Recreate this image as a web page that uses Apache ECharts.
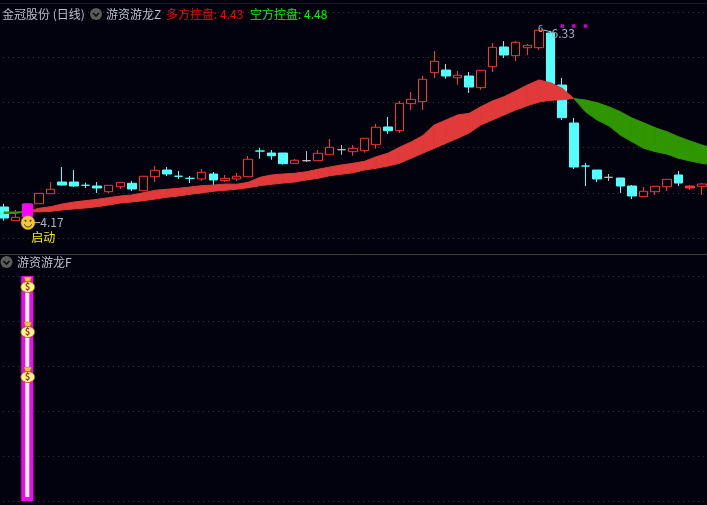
<!DOCTYPE html>
<html lang="zh">
<head>
    <meta charset="UTF-8">
    <title>金冠股份 (日线)</title>
    <style>
        html, body { margin: 0; padding: 0; background: #02020e; }
        #chart { width: 707px; height: 505px; }
    </style>
    <script src="https://cdn.jsdelivr.net/npm/echarts@6/dist/echarts.min.js"></script>
</head>
<body>
<div id="chart"></div>
<script>
    // candles
    const opens = [4.343,4.191,4.232,4.379,4.490,4.619,4.619,4.583,4.575,4.512,4.567,4.605,4.523,4.678,4.752,4.683,4.660,4.653,4.708,4.634,4.653,4.678,4.962,4.940,4.940,4.826,4.855,4.855,4.921,4.977,4.955,4.966,5.032,5.228,5.187,5.486,5.508,5.829,5.858,5.773,5.792,5.663,5.895,6.113,6.017,6.105,6.105,6.268,5.692,5.272,4.796,4.752,4.671,4.664,4.575,4.457,4.512,4.567,4.697,4.553,4.572];
    const closes = [4.221,4.229,4.376,4.494,4.539,4.586,4.575,4.583,4.553,4.583,4.616,4.542,4.683,4.749,4.708,4.683,4.660,4.727,4.642,4.660,4.683,4.871,4.962,4.910,4.822,4.860,4.855,4.937,5.003,4.977,4.992,5.103,5.225,5.187,5.490,5.534,5.756,5.955,5.792,5.800,5.670,5.855,6.110,6.024,6.165,6.132,6.298,5.637,5.331,4.785,4.796,4.653,4.671,4.575,4.465,4.517,4.572,4.649,4.608,4.575,4.597];
    const lows = [4.191,4.191,4.170,4.379,4.490,4.579,4.564,4.553,4.498,4.498,4.542,4.520,4.523,4.619,4.686,4.653,4.608,4.631,4.586,4.619,4.631,4.678,4.877,4.866,4.811,4.826,4.841,4.855,4.921,4.921,4.910,4.944,4.988,5.150,5.162,5.416,5.416,5.770,5.762,5.696,5.604,5.640,5.836,5.991,5.958,6.024,6.080,5.615,5.305,4.763,4.575,4.619,4.631,4.498,4.431,4.457,4.476,4.520,4.575,4.531,4.476];
    const highs = [4.376,4.310,4.387,4.494,4.619,4.785,4.752,4.612,4.619,4.583,4.616,4.631,4.683,4.796,4.785,4.741,4.686,4.763,4.730,4.697,4.719,4.907,4.996,4.973,4.940,4.874,4.962,4.973,5.095,5.029,5.029,5.103,5.261,5.339,5.516,5.615,5.792,6.069,5.925,5.847,5.836,5.855,6.157,6.179,6.179,6.146,6.298,6.290,5.770,5.327,4.830,4.752,4.708,4.664,4.586,4.564,4.572,4.649,4.741,4.586,4.608];

    // the two lines of the ribbon (one more point than candles, it runs off the right edge)
    const bandFast = [4.271,4.271,4.293,4.329,4.346,4.376,4.398,4.413,4.428,4.446,4.465,4.476,4.501,4.528,4.539,4.550,4.564,4.579,4.586,4.597,4.595,4.616,4.671,4.697,4.708,4.716,4.733,4.760,4.785,4.808,4.826,4.848,4.899,4.937,5.003,5.062,5.132,5.250,5.305,5.361,5.379,5.452,5.516,5.563,5.626,5.692,5.748,5.718,5.656,5.543,5.397,5.305,5.242,5.139,5.065,4.992,4.955,4.929,4.882,4.852,4.826,4.808];
    const bandSlow = [4.288,4.288,4.293,4.288,4.295,4.310,4.321,4.332,4.346,4.365,4.387,4.398,4.413,4.431,4.450,4.465,4.483,4.498,4.517,4.528,4.540,4.556,4.579,4.594,4.608,4.619,4.642,4.660,4.689,4.705,4.722,4.752,4.771,4.796,4.826,4.882,4.937,4.992,5.048,5.103,5.162,5.250,5.305,5.361,5.416,5.463,5.504,5.523,5.530,5.543,5.527,5.497,5.452,5.397,5.327,5.275,5.220,5.176,5.121,5.073,5.029,4.990];

    const grayDoji = [26, 29, 52];
    const filledUp = [59];
    const startIndex = 2;
    const signalDots = [[48, 6.345], [49, 6.345], [50, 6.345]];
    const lowMark = [2, 4.17];
    const highMark = [47, 6.29];

    const bagBar = 100;
    const bagValues = [96, 76, 56];
    const categories = bandFast.map((v, i) => i);

    const titleText = '金冠股份 (日线)';
    const upperName = '游资游龙Z';
    const lowerName = '游资游龙F';
    const longText = '多方控盘: 4.43';
    const shortText = '空方控盘: 4.48';

    const BG = '#02020e';
    const RED = '#ff3232';
    const CYAN = '#54ffff';
    const GRAY = '#c0c0c0';
    const FONT = '"Noto Sans CJK SC", "Noto Sans", sans-serif';

    let candleData = categories.map(i => {
        if (i >= opens.length) return '-';
        let color = closes[i] > opens[i] ? RED : CYAN;
        let fill = color === RED ? BG : CYAN;
        if (closes[i] === opens[i] && i !== startIndex) {
            color = grayDoji.includes(i) ? GRAY : CYAN;
            fill = color;
        }
        if (filledUp.includes(i)) fill = RED;
        return {
            value: [opens[i], closes[i], lows[i], highs[i]],
            itemStyle: {color: fill, color0: fill, borderColor: color, borderColor0: color, borderColorDoji: color}
        };
    });

    let startData = categories.map(i => i === startIndex
        ? {value: [opens[i], closes[i], lows[i], highs[i]]}
        : '-');

    // ribbon, one polygon per step, red while the fast line is on top
    function renderBand(params, api) {
        let i = api.value(0);
        if (i >= bandFast.length - 1) return;
        let a0 = api.coord([i, bandFast[i]]);
        let b0 = api.coord([i, bandSlow[i]]);
        let a1 = api.coord([i + 1, bandFast[i + 1]]);
        let b1 = api.coord([i + 1, bandSlow[i + 1]]);
        let up = bandFast[i] + bandFast[i + 1] > bandSlow[i] + bandSlow[i + 1];
        let c = up ? '#e03a3a' : '#2f9600';
        return {
            type: 'polygon',
            shape: {points: [a0, a1, b1, b0]},
            style: {fill: c, stroke: c, lineWidth: 1}
        };
    }

    function renderLowMark(params, api) {
        let p = api.coord([api.value(0), api.value(1)]);
        return {
            type: 'group',
            children: [
                {type: 'line', shape: {x1: p[0] + 6, y1: p[1], x2: p[0] + 13, y2: p[1]}, style: {stroke: GRAY, lineWidth: 1}},
                {type: 'circle', shape: {cx: p[0] + 0.7, cy: p[1], r: 7}, style: {fill: '#f2c92e', stroke: '#a8861a', lineWidth: 0.5}},
                {type: 'circle', shape: {cx: p[0] - 1.8, cy: p[1] - 2, r: 1}, style: {fill: '#4a3a10'}},
                {type: 'circle', shape: {cx: p[0] + 3.2, cy: p[1] - 2, r: 1}, style: {fill: '#4a3a10'}},
                {type: 'arc', shape: {cx: p[0] + 0.7, cy: p[1] + 0.5, r: 3.8, startAngle: 0.3, endAngle: Math.PI - 0.3}, style: {stroke: '#4a3a10', fill: 'none', lineWidth: 1}},
                {type: 'text', x: p[0] + 13, y: p[1], style: {text: lowMark[1].toFixed(2), fill: '#a9b4c0', font: '12px ' + FONT, verticalAlign: 'middle'}},
                {type: 'text', x: p[0] + 4, y: p[1] + 15, style: {text: '启动', fill: '#f4f000', font: '12px ' + FONT, verticalAlign: 'middle'}}
            ]
        };
    }

    function renderHighMark(params, api) {
        let p = api.coord([api.value(0), api.value(1)]);
        return {
            type: 'group',
            children: [
                {type: 'text', x: p[0] - 12.5, y: p[1] - 2, style: {text: '6', fill: GRAY, font: '9px ' + FONT, verticalAlign: 'middle'}},
                {type: 'line', shape: {x1: p[0] - 7, y1: p[1] - 1, x2: p[0] + 1, y2: p[1] + 1}, style: {stroke: GRAY, lineWidth: 1}},
                {type: 'text', x: p[0] + 1, y: p[1] + 2, style: {text: '6.33', fill: '#a9b4c0', font: '12px ' + FONT, verticalAlign: 'middle'}}
            ]
        };
    }

    function renderBag(params, api) {
        let p = api.coord([api.value(0), api.value(1)]);
        return {
            type: 'group',
            x: p[0] + 0.5,
            y: p[1],
            children: [
                {type: 'polygon', shape: {points: [[-4, -8], [4, -8], [2, -3], [-2, -3]]}, style: {fill: '#f7c52c', stroke: '#7a5a10', lineWidth: 0.5}},
                {type: 'ellipse', shape: {cx: 0, cy: 2, rx: 7, ry: 5.5}, style: {fill: '#fff088', stroke: '#7a5a10', lineWidth: 0.8}},
                {type: 'text', x: 0, y: 2, style: {text: '$', fill: '#9a3030', font: 'bold 9px ' + FONT, align: 'center', verticalAlign: 'middle'}}
            ]
        };
    }

    function headIcon(cx, cy) {
        return [
            {type: 'circle', shape: {cx: cx, cy: cy, r: 6}, style: {fill: '#5c5c5c'}},
            {type: 'polyline', shape: {points: [[cx - 3, cy - 1], [cx, cy + 2], [cx + 3, cy - 1]]}, style: {stroke: '#0c0c0c', fill: 'none', lineWidth: 1.6}}
        ];
    }

    function headText(x, y, text, color) {
        return {type: 'text', x: x, y: y, style: {text: text, fill: color, font: '12px ' + FONT, verticalAlign: 'middle'}};
    }

    const splitStyle = {show: true, lineStyle: {color: '#3a3a3a', type: [1, 4], width: 1}};

    let myChart = echarts.init(document.getElementById('chart'));
    let option = {
        animation: false,
        backgroundColor: BG,
        grid: [
            {left: -1.8, width: 721, top: 12, height: 226, outerBoundsMode: 'none'},
            {left: -1.8, width: 721, top: 276, height: 225, outerBoundsMode: 'none'}
        ],
        xAxis: [
            {type: 'category', data: categories, gridIndex: 0, show: false},
            {type: 'category', data: categories, gridIndex: 1, show: false}
        ],
        yAxis: [
            {type: 'value', gridIndex: 0, min: 4, max: 6.5, interval: 0.5, axisLabel: {show: false}, axisTick: {show: false}, axisLine: {show: false}, splitLine: splitStyle},
            {type: 'value', gridIndex: 1, min: 0, max: 100, interval: 20, axisLabel: {show: false}, axisTick: {show: false}, axisLine: {show: false}, splitLine: splitStyle}
        ],
        series: [
            {type: 'candlestick', data: candleData, barWidth: 9, itemStyle: {borderWidth: 1}, z: 2},
            {type: 'custom', renderItem: renderBand, data: categories.map(i => [i]), encode: {x: 0}, z: 3, silent: true},
            {
                type: 'candlestick', data: startData, barWidth: 11, z: 4,
                itemStyle: {color: '#ff00ff', color0: '#ff00ff', borderColor: '#ff00ff', borderColor0: '#ff00ff'}
            },
            {type: 'scatter', data: signalDots, symbol: 'rect', symbolSize: 3.5, itemStyle: {color: '#ff00ff'}, z: 5},
            {type: 'custom', renderItem: renderLowMark, data: [lowMark], encode: {x: 0, y: 1}, z: 6},
            {type: 'custom', renderItem: renderHighMark, data: [highMark], encode: {x: 0, y: 1}, z: 6},
            {
                // white core with a magenta border gives the striped bar
                type: 'bar', xAxisIndex: 1, yAxisIndex: 1, barWidth: 12, z: 2,
                data: categories.map(i => i === startIndex ? bagBar : '-'),
                itemStyle: {color: '#ffffff', borderColor: '#ff00ff', borderWidth: 4}
            },
            {
                type: 'custom', xAxisIndex: 1, yAxisIndex: 1, renderItem: renderBag, z: 4,
                data: bagValues.map(v => [startIndex, v]), encode: {x: 0, y: 1}
            }
        ],
        graphic: [
            {type: 'line', shape: {x1: 0, y1: 254.5, x2: 707, y2: 254.5}, style: {stroke: '#3c3c3c', lineWidth: 1}},
            {type: 'line', shape: {x1: 0, y1: 3.5, x2: 707, y2: 3.5}, style: {stroke: '#1c1c24', lineWidth: 1}},
            headText(2, 14, titleText, '#b8c0c8'),
            ...headIcon(96, 14),
            headText(106, 14, upperName, '#b8c0c8'),
            headText(166, 14, longText, '#ff0000'),
            headText(250, 14, shortText, '#00ff00'),
            ...headIcon(6.5, 262),
            headText(17, 262, lowerName, '#b8c0c8')
        ]
    };
    myChart.setOption(option);
</script>
</body>
</html>
